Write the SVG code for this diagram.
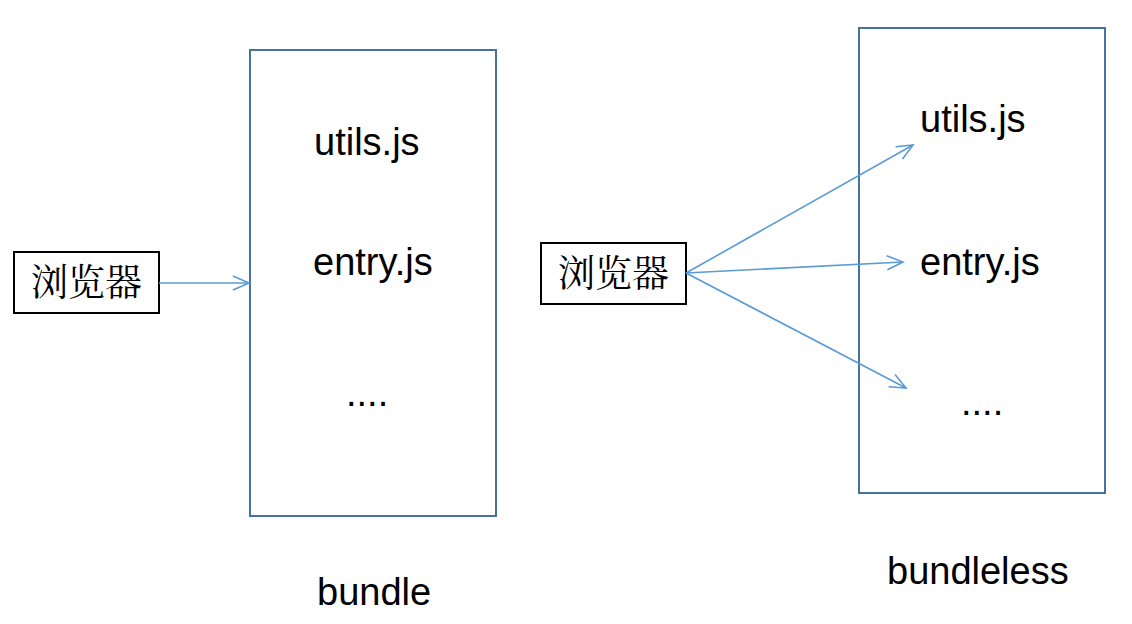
<svg xmlns="http://www.w3.org/2000/svg" width="1132" height="624" viewBox="0 0 1132 624">
<style>
.t{font-family:"Liberation Sans",Arial,sans-serif;font-size:38px;fill:#000}
.c{font-family:"Noto Serif CJK SC","Noto Sans CJK SC",serif;font-size:37px;fill:#000}
.cont{fill:none;stroke:#4672a0;stroke-width:2}
.br{fill:#fff;stroke:#000;stroke-width:2}
.ln{fill:none;stroke:#5b9bd5;stroke-width:1.6}
</style>
<defs>
<marker id="ah" viewBox="0 0 20 20" refX="18" refY="10" markerWidth="20" markerHeight="20" markerUnits="userSpaceOnUse" orient="auto">
<path d="M2,3 L18,10 L2,17" fill="none" stroke="#5b9bd5" stroke-width="1.6"/>
</marker>
</defs>
<rect width="1132" height="624" fill="#fff"/>
<g id="bundle">
<rect class="cont" x="250" y="50" width="246" height="466"/>
<text class="t" x="314" y="155">utils.js</text>
<text class="t" x="313" y="275">entry.js</text>
<text class="t" x="346" y="406">....</text>
<text class="t" x="317" y="605">bundle</text>
</g>
<g id="bundleless">
<rect class="cont" x="859" y="28" width="246" height="465"/>
<text class="t" x="920" y="132">utils.js</text>
<text class="t" x="920" y="275">entry.js</text>
<text class="t" x="961" y="415">....</text>
<text class="t" x="887" y="584">bundleless</text>
</g>
<g id="browser1">
<rect class="br" x="14" y="252" width="145" height="61"/>
<text class="c" x="86.5" y="296" text-anchor="middle">浏览器</text>
</g>
<g id="browser2">
<rect class="br" x="541" y="243" width="145" height="61"/>
<text class="c" x="613.5" y="287" text-anchor="middle">浏览器</text>
</g>
<g id="connectors">
<line class="ln" x1="159" y1="283" x2="249" y2="283" marker-end="url(#ah)"/>
<line class="ln" x1="686" y1="273" x2="913" y2="145" marker-end="url(#ah)"/>
<line class="ln" x1="686" y1="273" x2="903" y2="262" marker-end="url(#ah)"/>
<line class="ln" x1="686" y1="273" x2="906" y2="388" marker-end="url(#ah)"/>
</g>
</svg>
